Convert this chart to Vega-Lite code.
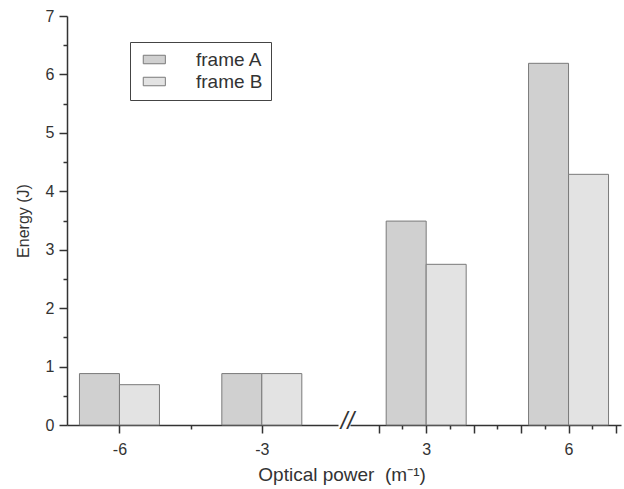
{
  "$schema": "https://vega.github.io/schema/vega-lite/v6.json",
  "padding": {"left": 15, "top": 8, "right": 4, "bottom": 5},
  "spacing": 12,
  "bounds": "flush",
  "config": {
    "view": {"stroke": null},
    "font": "Liberation Sans",
    "axis": {
      "domainColor": "#333333", "domainWidth": 1.5,
      "tickColor": "#333333", "tickWidth": 1.5,
      "labelColor": "#333333", "labelFontSize": 16, "labelFont": "Liberation Sans",
      "titleColor": "#333333", "titleFontSize": 16, "titleFontWeight": "normal", "titleFont": "Liberation Sans",
      "grid": false
    }
  },
  "title": {"text": "Optical power\u00a0 (m⁻¹)", "orient": "bottom", "anchor": "middle", "dx": 24, "fontSize": 19, "fontWeight": "normal", "color": "#333333", "font": "Liberation Sans", "offset": 9},
  "datasets": {
    "bars": [
      {"power": -6, "frame": "frame A", "energy": 0.88},
      {"power": -6, "frame": "frame B", "energy": 0.69},
      {"power": -3, "frame": "frame A", "energy": 0.88},
      {"power": -3, "frame": "frame B", "energy": 0.88},
      {"power": 3, "frame": "frame A", "energy": 3.49},
      {"power": 3, "frame": "frame B", "energy": 2.75},
      {"power": 6, "frame": "frame A", "energy": 6.19},
      {"power": 6, "frame": "frame B", "energy": 4.29}
    ]
  },
  "resolve": {"scale": {"fill": "shared"}},
  "hconcat": [
    {
      "width": 271, "height": 409,
      "data": {"name": "bars"},
      "encoding": {
        "x": {"field": "power", "type": "quantitative", "title": null,
          "scale": {"domain": [-7, -1.5], "nice": false, "zero": false},
          "axis": {"values": [-6, -4.5, -3], "labelExpr": "datum.value % 3 === 0 ? '' + datum.value : ''",
            "tickSize": {"condition": {"test": "datum.value % 3 === 0", "value": 8}, "value": 4},
            "labelPadding": 8}},
        "y": {"field": "energy", "type": "quantitative", "title": "Energy (J)",
          "scale": {"domain": [0, 7], "nice": false},
          "axis": {"values": [0, 0.5, 1, 1.5, 2, 2.5, 3, 3.5, 4, 4.5, 5, 5.5, 6, 6.5, 7],
            "labelExpr": "datum.value % 1 === 0 ? '' + datum.value : ''",
            "tickSize": {"condition": {"test": "datum.value % 1 === 0", "value": 8}, "value": 4},
            "labelPadding": 5, "titlePadding": 14}}
      },
      "layer": [
        {"transform": [{"filter": "datum.power < 0 && datum.frame === 'frame A'"}],
          "mark": {"type": "bar", "width": 40, "xOffset": -20, "stroke": "#7a7a7a", "strokeWidth": 1},
          "encoding": {"fill": {"field": "frame", "type": "nominal",
            "scale": {"domain": ["frame A", "frame B"], "range": ["#d0d0d0", "#e3e3e3"]},
            "legend": {"orient": "none", "legendX": 63, "legendY": 26, "title": null,
              "symbolType": "M-0.5,-0.5H2.1V0.5H-0.5Z", "symbolSize": 289,
              "symbolStrokeColor": "#7a7a7a", "symbolStrokeWidth": 1, "symbolOpacity": 1,
              "labelFontSize": 19, "labelFont": "Liberation Sans", "labelColor": "#333333", "labelOffset": 39,
              "rowPadding": 2, "padding": 8, "strokeColor": "#444444"}}}},
        {"transform": [{"filter": "datum.power < 0 && datum.frame === 'frame B'"}],
          "mark": {"type": "bar", "width": 40, "xOffset": 20, "stroke": "#7a7a7a", "strokeWidth": 1},
          "encoding": {"fill": {"field": "frame", "type": "nominal"}}}
      ]
    },
    {
      "width": 271, "height": 409,
      "data": {"name": "bars"},
      "encoding": {
        "x": {"field": "power", "type": "quantitative", "title": null,
          "scale": {"domain": [1.5, 7], "nice": false, "zero": false},
          "axis": {"values": [1.5, 2, 2.5, 3, 3.5, 4, 4.5, 5, 5.5, 6, 6.5, 7],
            "labelExpr": "datum.value === 1.5 ? '//' : (datum.value === 3 || datum.value === 6 ? '' + datum.value : '')",
            "labelFlush": false, "labelOverlap": false,
            "tickSize": {"condition": [{"test": "datum.value === 1.5", "value": 0}, {"test": "datum.value % 1 === 0", "value": 8}], "value": 4},
            "labelFontSize": {"condition": {"test": "datum.value === 1.5", "value": 24}, "value": 16},
            "labelFontStyle": {"condition": {"test": "datum.value === 1.5", "value": "italic"}, "value": "normal"},
            "labelBaseline": {"condition": {"test": "datum.value === 1.5", "value": "middle"}, "value": "top"},
            "labelOffset": {"condition": {"test": "datum.value === 1.5", "value": -8}, "value": 0},
            "labelPadding": {"condition": {"test": "datum.value === 1.5", "value": -4}, "value": 8}}},
        "y": {"field": "energy", "type": "quantitative", "scale": {"domain": [0, 7], "nice": false}, "axis": null}
      },
      "layer": [
        {"transform": [{"filter": "datum.power > 0 && datum.frame === 'frame A'"}],
          "mark": {"type": "bar", "width": 40, "xOffset": -20, "stroke": "#7a7a7a", "strokeWidth": 1},
          "encoding": {"fill": {"field": "frame", "type": "nominal"}}},
        {"transform": [{"filter": "datum.power > 0 && datum.frame === 'frame B'"}],
          "mark": {"type": "bar", "width": 40, "xOffset": 20, "stroke": "#7a7a7a", "strokeWidth": 1},
          "encoding": {"fill": {"field": "frame", "type": "nominal"}}}
      ]
    }
  ]
}
